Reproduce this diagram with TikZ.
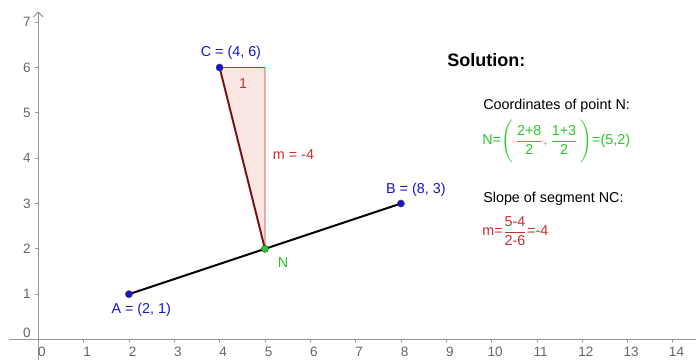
\documentclass[tikz,border=0pt]{standalone}
\usepackage{amsmath}
\usepackage{fontspec}
\setmainfont{Liberation Sans}
\usepackage{tikz}
\usetikzlibrary{arrows.meta,positioning}
\definecolor{ptblue}{RGB}{20,20,210}
\definecolor{ptgreen}{RGB}{40,200,40}
\definecolor{slred}{RGB}{205,45,45}
\definecolor{segred}{RGB}{120,20,20}
\definecolor{trifill}{RGB}{250,230,226}
\definecolor{axgray}{RGB}{150,150,150}
\tikzset{
  axis/.style={draw=axgray, line width=0.7pt},
  tick/.style={draw=axgray, line width=0.5pt},
  ticklabel/.style={text=black!60, font=\fontsize{8.5}{10}\selectfont, inner sep=0pt},
  pt/.style={circle, draw=black!70, line width=0.3pt, fill=ptblue, inner sep=0pt, minimum size=4.5pt},
  ptlabel/.style={text=ptblue, font=\fontsize{9}{11}\selectfont, inner sep=0pt},
  txt/.style={font=\fontsize{9}{11}\selectfont, anchor=west, inner sep=0pt}
}
\begin{document}
\begin{tikzpicture}[line cap=round]
	\useasboundingbox (-0.845,-0.452) rectangle (14.51,7.49);
	% axes
	\draw[axis] (-0.64,0) -- (14.51,0);
	\draw[axis,-{Straight Barb[length=3pt,width=6pt]}] (0,-0.452) -- (0,7.24);
	\foreach \x in {1,...,14}
		\draw[tick] (\x,0) -- (\x,-0.06);
	\foreach \x in {0,...,14}
		\node[ticklabel] at (\x+0.08,-0.28) {\x};
	\foreach \y in {1,...,7}
		{\draw[tick] (0,\y) -- (-0.06,\y);
		\node[ticklabel] at (-0.25,\y) {\y};}
	\node[ticklabel] at (-0.25,0.15) {0};
	% points
	\coordinate (A) at (2,1);
	\coordinate (B) at (8,3);
	\coordinate (C) at (4,6);
	\coordinate (N) at (5,2);
	\coordinate (K) at (5,6);
	% slope triangle
	\filldraw[fill=trifill, draw=slred, line width=0.5pt] (C) -- (K) -- (N) -- cycle;
	\node[text=slred, font=\fontsize{9}{11}\selectfont] (one) at (4.52,5.64) {1};
	\node[txt, text=slred] (rise) at (5.17,4.07) {m = -4};
	% segments
	\draw[line width=1.2pt] (A) -- (B);
	\draw[segred, line width=1.2pt] (N) -- (C);
	\node[pt] (pA) at (A) {};
	\node[pt] (pB) at (B) {};
	\node[pt] (pC) at (C) {};
	\node[pt, fill=ptgreen] (pN) at (N) {};
	\node[ptlabel] (lA) at (2.27,0.65) {A = (2, 1)};
	\node[ptlabel] (lB) at (8.33,3.30) {B = (8, 3)};
	\node[ptlabel] (lC) at (4.25,6.32) {C = (4, 6)};
	\node[ptlabel, text=ptgreen] (lN) at (5.40,1.69) {N};
	% solution text
	\node[txt, font=\bfseries\fontsize{11.3}{13}\selectfont] (sol) at (9.02,6.17) {Solution:};
	\node[txt] (coord) at (9.81,5.15) {Coordinates of point N:};
	\node[txt, text=ptgreen] (mid) at (9.79,4.38)
		{N=$\Bigg(\,\dfrac{\text{2+8}}{\text{2}},\dfrac{\text{1+3}}{\text{2}}\,\Bigg)$=(5,2)};
	\node[txt] (slope) at (9.81,3.10) {Slope of segment NC:};
	\node[txt, text=slred] (mval) at (9.79,2.39)
		{m=$\dfrac{\text{5-4}}{\text{2-6}}$=-4};
\end{tikzpicture}
\end{document}
